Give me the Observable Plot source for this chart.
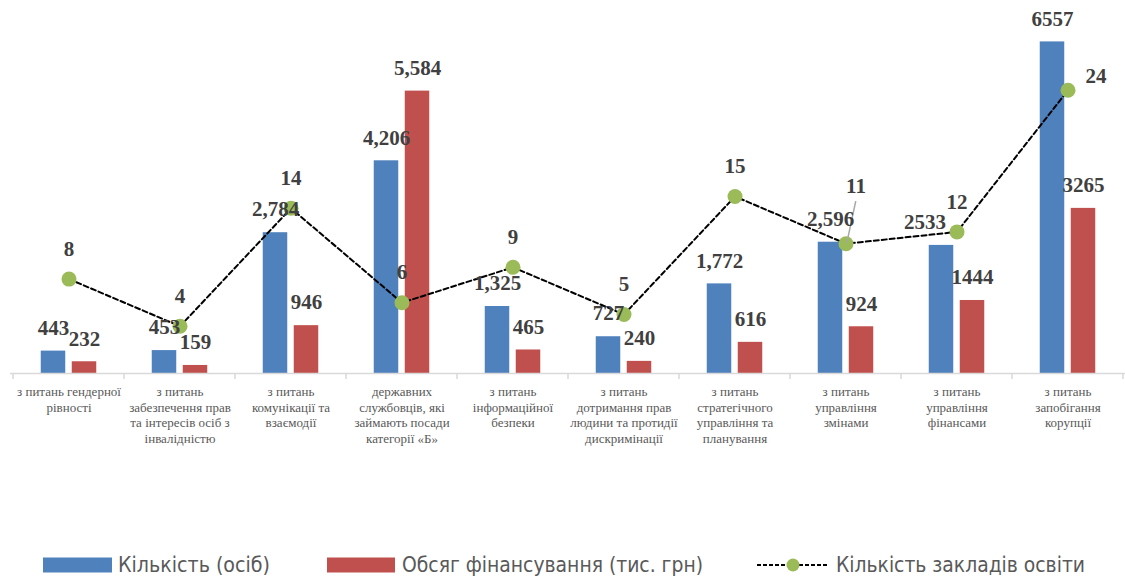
<!DOCTYPE html>
<html><head><meta charset="utf-8">
<script src="https://cdn.jsdelivr.net/npm/d3@7"></script>
<script src="https://cdn.jsdelivr.net/npm/@observablehq/plot@0.6"></script>
<style>
body{margin:0;background:#fff;}
#chart{position:relative;width:1125px;height:577px;overflow:hidden;background:#fff;}
#chart svg{display:block;}
#chart svg.main text{font-family:'Liberation Serif','Times New Roman',serif;}
</style></head><body><div id="chart"></div>
<script>
const categories = [
  "з питань гендерної\nрівності",
  "з питань\nзабезпечення прав\nта інтересів осіб з\nінвалідністю",
  "з питань\nкомунікації та\nвзаємодії",
  "державних\nслужбовців, які\nзаймають посади\nкатегорії «Б»",
  "з питань\nінформаційної\nбезпеки",
  "з питань\nдотримання прав\nлюдини та протидії\nдискримінації",
  "з питань\nстратегічного\nуправління та\nпланування",
  "з питань\nуправління\nзмінами",
  "з питань\nуправління\nфінансами",
  "з питань\nзапобігання\nкорупції"
];
const countPersons = [443, 453, 2784, 4206, 1325, 727, 1772, 2596, 2533, 6557];
const countLabels = ["443", "453", "2,784", "4,206", "1,325", "727", "1,772", "2,596", "2533", "6557"];
const funding = [232, 159, 946, 5584, 465, 240, 616, 924, 1444, 3265];
const fundingLabels = ["232", "159", "946", "5,584", "465", "240", "616", "924", "1444", "3265"];
const institutions = [8, 4, 14, 6, 9, 5, 15, 11, 12, 24];
const seriesNames = ["Кількість (осіб)", "Обсяг фінансування (тис. грн)", "Кількість закладів освіти"];

const rows = categories.map((c, i) => ({
  cat: c, i,
  count: countPersons[i], countLabel: countLabels[i],
  fund: funding[i], fundLabel: fundingLabels[i],
  inst: institutions[i]
}));

const W = 1125, H = 540;
const BAR_MAX = 7000, INST_MAX = 30; // primary / secondary axis maxima
const toBar = v => v * BAR_MAX / INST_MAX;
const ML = 10, MR = 0;
const half = (W - ML - MR) / categories.length / 2;
const serif = "'Liberation Serif','Times New Roman',serif";
const labelColor = "#404040";

function boundaryTicks(index, scales) {
  const x = scales.x, y = scales.y;
  const step = x(categories[1]) - x(categories[0]);
  const y0 = y(0);
  const g = d3.create("svg:g").attr("stroke", "#D9D9D9").attr("stroke-width", 1.5);
  const xs = categories.map(c => x(c)).concat([x(categories[categories.length - 1]) + step]);
  xs.forEach(px => g.append("line").attr("x1", px).attr("x2", px).attr("y1", y0).attr("y2", y0 + 6));
  return g.node();
}

function leader(index, scales) {
  const x = scales.x, y = scales.y;
  const r = rows[7];
  const px = x(r.cat) + half, py = y(toBar(r.inst));
  const g = d3.create("svg:g");
  g.append("line").attr("x1", px + 1).attr("y1", py).attr("x2", px + 10).attr("y2", py - 42)
    .attr("stroke", "#A6A6A6").attr("stroke-width", 1.5);
  return g.node();
}

const textBase = {fontFamily: serif, fontWeight: "bold", fontSize: 21, fill: labelColor};

const plot = Plot.plot({
  className: "main",
  width: W, height: H,
  marginLeft: ML, marginRight: MR, marginTop: 19, marginBottom: H - 373,
  style: {fontFamily: serif, background: "transparent", overflow: "visible"},
  x: {type: "band", domain: categories, padding: 0},
  y: {domain: [0, BAR_MAX], axis: null},
  marks: [
    Plot.barY(rows, {x: "cat", y: "count", fill: "#4F81BD", insetLeft: half - 28, insetRight: half + 3}),
    Plot.barY(rows, {x: "cat", y: "fund", fill: "#C0504D", insetLeft: half + 3, insetRight: half - 28}),
    Plot.ruleY([0], {stroke: "#D9D9D9", strokeWidth: 1.5}),
    boundaryTicks,
    Plot.axisX({tickSize: 0, tickPadding: 12, fontSize: 13, lineHeight: 1.19, color: "#595959", fontFamily: serif, label: null}),
    Plot.line(rows, {x: "cat", y: d => toBar(d.inst), stroke: "#000", strokeWidth: 2, strokeDasharray: "5,3"}),
    Plot.dot(rows, {x: "cat", y: d => toBar(d.inst), r: 7.5, fill: "#9BBB59", stroke: "none"}),
    leader,
    Plot.text(rows, {x: "cat", y: "count", text: "countLabel", dx: d => 0, ...textBase, dx: -15.5, dy: -23, filter: d => d.i !== 8}),
    Plot.text(rows, {x: "cat", y: "count", text: "countLabel", ...textBase, dx: -32, dy: -23, filter: d => d.i === 8}),
    Plot.text(rows, {x: "cat", y: "fund", text: "fundLabel", dx: 15.5, dy: -23, ...textBase}),
    Plot.text(rows, {filter: d => d.i !== 7 && d.i !== 9, x: "cat", y: d => toBar(d.inst), text: d => String(d.inst), dy: -30, ...textBase}),
    Plot.text(rows, {filter: d => d.i === 7, x: "cat", y: d => toBar(d.inst), text: d => String(d.inst), dx: 10, dy: -57, ...textBase}),
    Plot.text(rows, {filter: d => d.i === 9, x: "cat", y: d => toBar(d.inst), text: d => String(d.inst), dx: 28, dy: -14, ...textBase})
  ]
});
document.getElementById("chart").appendChild(plot);

// Legend below the plot
const lg = d3.select("#chart").append("svg").attr("width", W).attr("height", 37);
const cy = 25;
const sans = "'Liberation Sans Narrow','DejaVu Sans Condensed','Liberation Sans',sans-serif";
function legendText(xPos, txt, len) {
  lg.append("text").attr("x", xPos).attr("y", cy).attr("dy", "0.35em")
    .attr("font-family", sans).attr("font-size", 21).attr("fill", "#595959")
    .attr("textLength", len).attr("lengthAdjust", "spacingAndGlyphs").text(txt);
}
lg.append("rect").attr("x", 43).attr("y", cy - 7.5).attr("width", 69).attr("height", 15).attr("fill", "#4F81BD");
legendText(118, seriesNames[0], 152);
lg.append("rect").attr("x", 327).attr("y", cy - 7.5).attr("width", 68).attr("height", 15).attr("fill", "#C0504D");
legendText(402, seriesNames[1], 301);
lg.append("line").attr("x1", 757).attr("x2", 829).attr("y1", cy).attr("y2", cy)
  .attr("stroke", "#000").attr("stroke-width", 2).attr("stroke-dasharray", "4,2");
lg.append("circle").attr("cx", 793).attr("cy", cy).attr("r", 6.5).attr("fill", "#9BBB59");
legendText(836, seriesNames[2], 249);
</script></body></html>
